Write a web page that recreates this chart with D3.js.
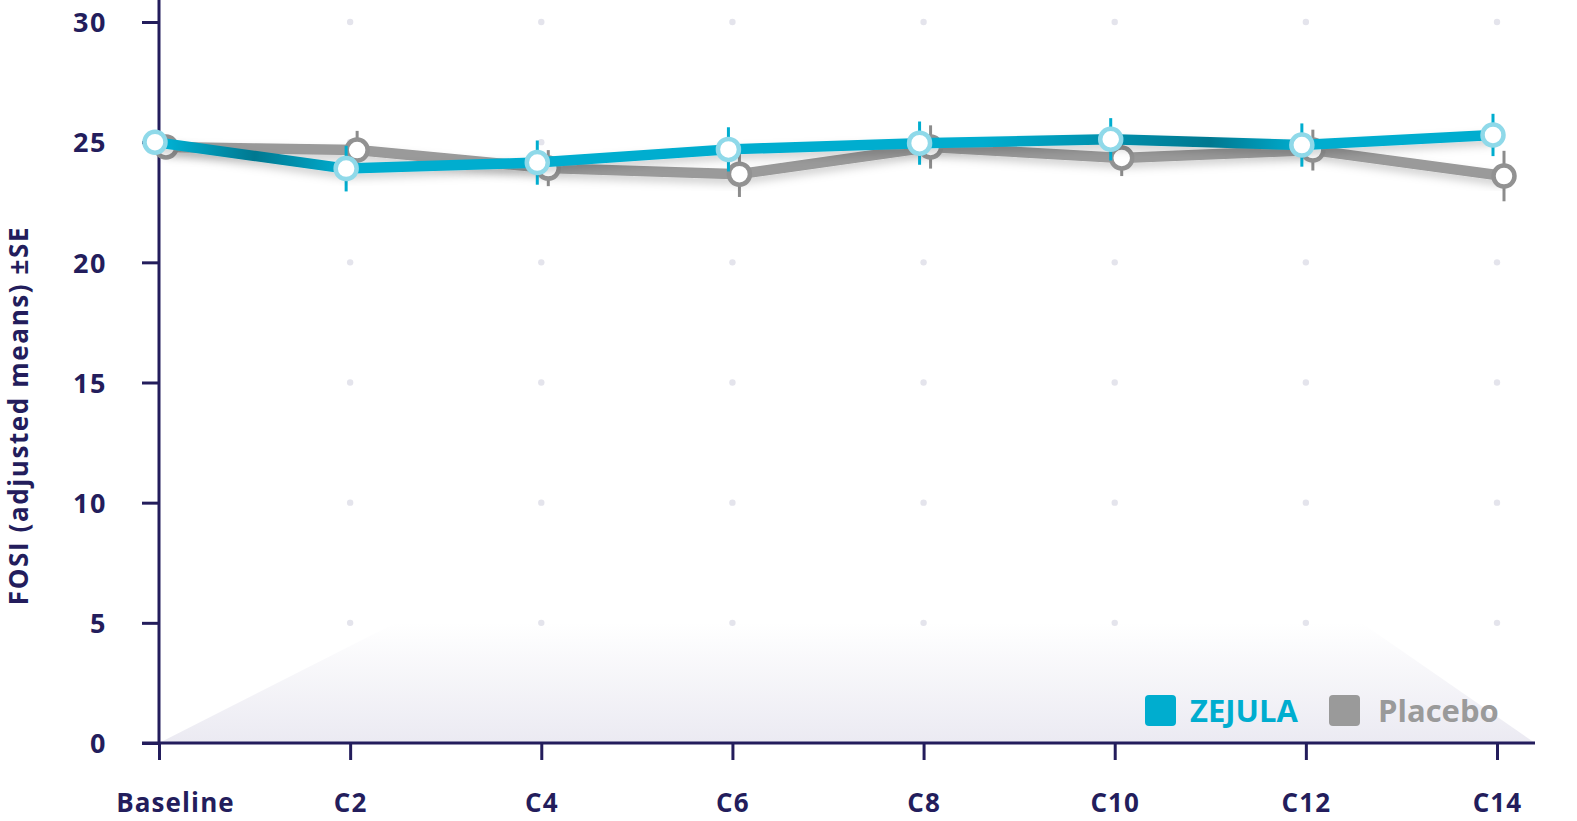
<!DOCTYPE html>
<html>
<head>
<meta charset="utf-8">
<script src="https://cdn.jsdelivr.net/npm/d3@7/dist/d3.min.js"></script>
<style>
  html, body { margin: 0; padding: 0; background: #ffffff; }
  svg { display: block; font-family: "Open Sans", "Noto Sans", sans-serif; }
</style>
</head>
<body>
<svg id="chart" width="1577" height="821"></svg>
<script>
// ---- data ----
const categories = ["Baseline", "C2", "C4", "C6", "C8", "C10", "C12", "C14"];
const zejulaValues = [25.0, 23.9, 24.15, 24.7, 24.96, 25.12, 24.88, 25.3];
const zejulaSE     = [0.0, 0.95, 0.92, 0.92, 0.9, 0.88, 0.9, 0.88];
const placeboValues = [24.8, 24.67, 23.92, 23.67, 24.8, 24.34, 24.67, 23.59];
const placeboSE     = [0.0, 0.8, 0.75, 0.95, 0.9, 0.75, 0.85, 1.05];
const yTicks = [0, 5, 10, 15, 20, 25, 30];
const yLabel = "FOSI (adjusted means) ±SE";
const legendLabels = ["ZEJULA", "Placebo"];

// ---- styles ----
const NAVY = "#231d5c";
const CYAN = "#00adcf";
const CYAN_DARK = "#007890";
const CYAN_RING = "#8fd9e9";
const GRAY = "#9a9a9a";
const GRAY_BAR = "#8c8c8c";

const svg = d3.select("#chart");
const defs = svg.append("defs");

const x = d3.scalePoint().domain(categories).range([159, 1497]);
const y = d3.scaleLinear().domain([0, 30]).range([743, 22]);

// shadow filter
const f = defs.append("filter").attr("id", "shadow")
  .attr("x", "-5%").attr("y", "-50%").attr("width", "110%").attr("height", "200%");
f.append("feDropShadow").attr("dx", 0).attr("dy", 5).attr("stdDeviation", 4)
  .attr("flood-color", "#000").attr("flood-opacity", 0.18);

// background trapezoid gradient
const bg = defs.append("linearGradient").attr("id", "bgGrad")
  .attr("x1", 0).attr("y1", 0).attr("x2", 0).attr("y2", 1);
bg.append("stop").attr("offset", "0%").attr("stop-color", "#ffffff");
bg.append("stop").attr("offset", "100%").attr("stop-color", "#ebeaf2");

const step = x.step();
const trap = [
  [x("Baseline"), y(0)],
  [x("C2") + step * 0.24, y(5)],
  [x("C12") + step * 0.29, y(5)],
  [x("C14") + 38, y(0)]
];
svg.append("path")
  .attr("d", d3.line()(trap) + "Z")
  .attr("fill", "url(#bgGrad)");

// grid dots
const dotG = svg.append("g");
categories.slice(1).forEach(c => {
  yTicks.filter(t => t > 0).forEach(t => {
    dotG.append("circle").attr("cx", x(c)).attr("cy", y(t)).attr("r", 3.2)
      .attr("fill", "#e4e4ec");
  });
});

// axes
const yAxis = d3.axisLeft(y).tickValues(yTicks).tickSize(17).tickPadding(35);
const gy = svg.append("g").attr("transform", `translate(${x("Baseline")},0)`).call(yAxis);
gy.select(".domain").remove();
gy.selectAll(".tick line").attr("stroke", NAVY).attr("stroke-width", 3);
gy.selectAll(".tick text").attr("fill", NAVY).attr("font-size", 27).attr("font-weight", 700)
  .attr("font-family", "'Open Sans', sans-serif").attr("letter-spacing", 1.5).attr("dy", "0.36em");
svg.append("line").attr("x1", x("Baseline")).attr("x2", x("Baseline"))
  .attr("y1", 0).attr("y2", y(0)).attr("stroke", NAVY).attr("stroke-width", 3);

const xAxis = d3.axisBottom(x).tickSize(17).tickPadding(34);
const gx = svg.append("g").attr("transform", `translate(0,${y(0)})`).call(xAxis);
gx.select(".domain").remove();
gx.selectAll(".tick line").attr("stroke", NAVY).attr("stroke-width", 3);
gx.selectAll(".tick text").attr("fill", NAVY).attr("font-size", 26).attr("font-weight", 700)
  .attr("font-family", "'Open Sans', sans-serif").attr("letter-spacing", 1.1)
  .attr("dx", d => d === "Baseline" ? 16 : 0);
svg.append("line").attr("x1", x("Baseline") - 17).attr("x2", x("C14") + 38)
  .attr("y1", y(0)).attr("y2", y(0)).attr("stroke", NAVY).attr("stroke-width", 3);

// y label
svg.append("text")
  .attr("transform", `translate(28,${(y(0) + y(30)) / 2 + 33}) rotate(-90)`)
  .attr("text-anchor", "middle")
  .attr("fill", NAVY).attr("font-size", 26).attr("font-weight", 700).attr("letter-spacing", 1.6)
  .text(yLabel);

// zejula line gradient (along x)
const zg = defs.append("linearGradient").attr("id", "zGrad")
  .attr("gradientUnits", "userSpaceOnUse")
  .attr("x1", 0).attr("x2", 1577).attr("y1", 0).attr("y2", 0);
const stops = [
  [x("Baseline") + 12, CYAN],
  [(x("Baseline") + x("C2")) / 2, CYAN_DARK],
  [x("C2") - 5, CYAN],
  [x("C8") + 60, CYAN],
  [(x("C10") + x("C12")) / 2, CYAN_DARK],
  [x("C12") - 5, CYAN]
];
stops.forEach(([px, col]) => zg.append("stop").attr("offset", (px / 1577 * 100) + "%").attr("stop-color", col));

function drawSeries(values, se, dx, lineColor, barColor, ringColor, strokeUrl) {
  const pts = categories.map((c, i) => ({ c, v: values[i], s: se[i], px: x(c) + dx }));
  const g = svg.append("g");
  g.selectAll("line.err").data(pts.filter(p => p.s > 0)).join("line")
    .attr("x1", p => p.px).attr("x2", p => p.px)
    .attr("y1", p => y(p.v + p.s)).attr("y2", p => y(p.v - p.s))
    .attr("stroke", barColor).attr("stroke-width", 3);
  g.append("path")
    .datum(pts)
    .attr("d", d3.line().x(p => p.px).y(p => y(p.v)))
    .attr("fill", "none").attr("stroke", strokeUrl || lineColor)
    .attr("stroke-width", 10.5).attr("stroke-linejoin", "round")
    .attr("filter", "url(#shadow)");
  g.selectAll("circle").data(pts).join("circle")
    .attr("cx", p => p.px).attr("cy", p => y(p.v)).attr("r", 10.5)
    .attr("fill", "#ffffff").attr("stroke", ringColor).attr("stroke-width", 4.5);
}

drawSeries(placeboValues, placeboSE, 7, GRAY, GRAY_BAR, "#929292", null);
drawSeries(zejulaValues, zejulaSE, -4, CYAN, CYAN, CYAN_RING, "url(#zGrad)");

// legend
const lg = svg.append("g");
const legendItems = [
  { label: legendLabels[0], color: CYAN, sx: 1145, tx: 1190 },
  { label: legendLabels[1], color: GRAY, sx: 1329, tx: 1378 }
];
legendItems.forEach(it => {
  lg.append("rect").attr("x", it.sx).attr("y", 695).attr("width", 31).attr("height", 31)
    .attr("rx", 4).attr("fill", it.color);
  lg.append("text").attr("x", it.tx).attr("y", 722).attr("fill", it.color)
    .attr("font-size", 31).attr("font-weight", 700).text(it.label);
});
</script>
</body>
</html>
